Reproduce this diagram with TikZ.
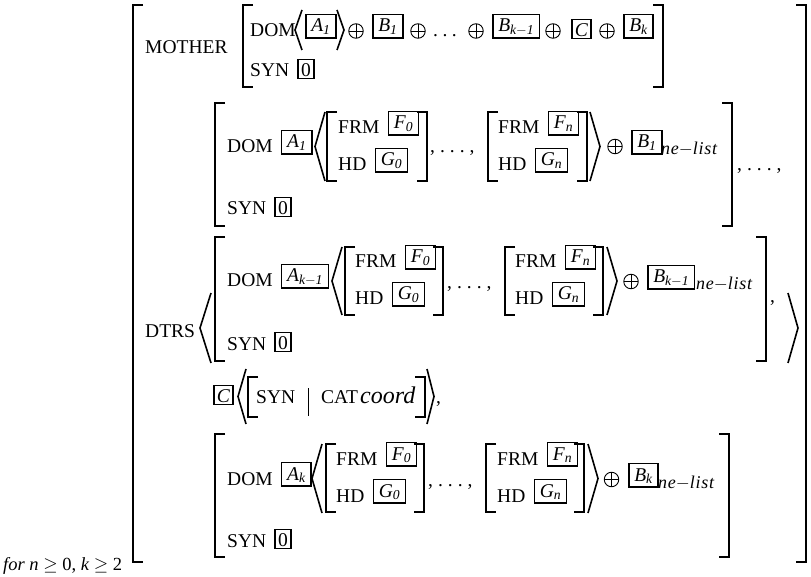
\RequirePackage{fix-cm}
\documentclass[tikz,border=0pt]{standalone}
\usepackage{fontspec}
\setmainfont{Liberation Serif}
\usetikzlibrary{positioning}

\begin{document}
\fontsize{19.5}{23}\selectfont
\begin{tikzpicture}[x=1pt, y=-1pt,
  every node/.style={inner sep=0pt, anchor=base west},
  brk/.style={line width=1.6pt},
  tagbox/.style={draw, line width=1.5pt, inner xsep=5.5pt, inner ysep=2pt, text height=15.5pt, text depth=4pt, yshift=5pt, font=\itshape},
  numbox/.style={draw, line width=1.5pt, inner xsep=3pt, inner ysep=2pt, text height=15pt, text depth=0pt, yshift=0.5pt},
  ibox/.style={numbox, font=\itshape},
  oplus/.style={circle, draw, line width=0.9pt, minimum size=14.5pt, anchor=center,
    path picture={\draw[line width=0.9pt] (path picture bounding box.north) -- (path picture bounding box.south)
      (path picture bounding box.west) -- (path picture bounding box.east);}},
  nelist/.style={font=\fontsize{18}{21}\selectfont\itshape\addfontfeatures{LetterSpace=4}}]

  \useasboundingbox (0,0) rectangle (811,577);

  % Square brackets, opening to the right
  \foreach \x/\t/\b in {133/5/562, 243/5/87, 215/103/226, 327/112/181, 488/112/181,
      215/237/361, 345/247/315, 505/247/315, 248/377/417, 215/434/557, 326/444/512, 486/444/512}
    \draw[brk] (\x+10,\t) -- (\x,\t) -- (\x,\b) -- (\x+10,\b);
  % Square brackets, opening to the left
  \foreach \x/\t/\b in {806/5/562, 663/5/87, 732/103/226, 427/112/181, 587/112/181,
      766/237/361, 443/247/315, 603/247/315, 425/377/417, 729/434/557, 424/444/512, 584/444/512}
    \draw[brk] (\x-10,\t) -- (\x,\t) -- (\x,\b) -- (\x-10,\b);

  % Angle brackets
  \foreach \l/\r/\t/\b in {295/302/10/50, 315/325/112/181, 200/211/293/363,
      332/342/247/315, 238/246/369/424, 312/322/444/513}
    \draw[brk] (\r,\t) -- (\l,{(\t+\b)/2}) -- (\r,\b);
  \foreach \l/\r/\t/\b in {337/344/10/50, 590/600/112/181, 788/798/293/363,
      607/617/247/315, 427/434/369/424, 588/598/444/513}
    \draw[brk] (\l,\t) -- (\r,{(\t+\b)/2}) -- (\l,\b);

  % Mother
  \node (mother) at (145,54) {MOTHER};
  \node (mdom) at (250,37) {DOM};
  \node[tagbox] (ma1) at (305,37) {A\textsubscript{1}};
  \node[oplus] (mplus1) at (356,31) {};
  \node[tagbox] (mb1) at (372,37) {B\textsubscript{1}};
  \node[oplus] (mplus2) at (418,31) {};
  \node (mdots) at (433,37) {.\hspace{4.5pt}.\hspace{4.5pt}.};
  \node[oplus] (mplus3) at (476,31) {};
  \node[tagbox] (mbk1) at (492,37) {B\textsubscript{k$-$1}};
  \node[oplus] (mplus4) at (553,31) {};
  \node[ibox] (mc) at (571,37) {C};
  \node[oplus] (mplus5) at (607,31) {};
  \node[tagbox] (mbk) at (623,37) {B\textsubscript{k}};
  \node (msyn) at (250,77) {SYN};
  \node[numbox, base right=8pt of msyn] (mzero) {0};

  % Daughters
  \node (dtrs) at (145,337) {DTRS};

  % FRM/HD pairs inside the DOM lists
  \foreach \x/\y/\i in {338/134/0, 498/134/n, 355/268/0, 515/268/n, 336/465/0, 497/465/n} {
    \node (frm\x) at (\x,\y) {FRM};
    \node[tagbox, base right=8pt of frm\x] (f\x) {F\textsubscript{\i}};
    \node (hd\x) at (\x,\y+37) {HD};
    \node[tagbox, base right=8pt of hd\x] (g\x) {G\textsubscript{\i}};
  }

  % first conjunct
  \node (d1dom) at (227,153) {DOM};
  \node[tagbox, base right=8pt of d1dom] (d1a) {A\textsubscript{1}};
  \node (d1dots) at (430,153) {,\hspace{5pt}.\hspace{5pt}.\hspace{5pt}.\hspace{5pt},};
  \node[oplus] (d1plus) at (615,146.5) {};
  \node[tagbox] (d1b) at (631,153) {B\textsubscript{1}};
  \node[nelist] (d1ne) at (661,155) {ne$-$list};
  \node (d1more) at (737,171) {,\hspace{5pt}.\hspace{5pt}.\hspace{5pt}.\hspace{5pt},};
  \node (d1syn) at (227,215) {SYN};
  \node[numbox, base right=8pt of d1syn] (d1zero) {0};

  % conjunct k-1
  \node (d2dom) at (227,287) {DOM};
  \node[tagbox, base right=8pt of d2dom] (d2a) {A\textsubscript{k$-$1}};
  \node (d2dots) at (447,288) {,\hspace{5pt}.\hspace{5pt}.\hspace{5pt}.\hspace{5pt},};
  \node[oplus] (d2plus) at (631,281.5) {};
  \node[tagbox] (d2b) at (647,288) {B\textsubscript{k$-$1}};
  \node[nelist] (d2ne) at (696,290) {ne$-$list};
  \node (d2comma) at (770,302) {,};
  \node (d2syn) at (227,350) {SYN};
  \node[numbox, base right=8pt of d2syn] (d2zero) {0};

  % coordinator
  \node[ibox] (cc) at (213,403) {C};
  \node (csyn) at (256,403) {SYN};
  \draw[line width=0.8pt] (308,388) -- (308,416);
  \node (ccat) at (321,403) {CAT};
  \node[font=\fontsize{24}{28}\selectfont\itshape] (ccoord) at (360,403) {coord};
  \node (ccomma) at (436,403) {,};

  % last conjunct
  \node (d3dom) at (227,485) {DOM};
  \node[tagbox, base right=8pt of d3dom] (d3a) {A\textsubscript{k}};
  \node (d3dots) at (428,486) {,\hspace{5pt}.\hspace{5pt}.\hspace{5pt}.\hspace{5pt},};
  \node[oplus] (d3plus) at (611.5,479.5) {};
  \node[tagbox] (d3b) at (628,486) {B\textsubscript{k}};
  \node[nelist] (d3ne) at (658,488) {ne$-$list};
  \node (d3syn) at (227,547) {SYN};
  \node[numbox, base right=8pt of d3syn] (d3zero) {0};

  % side condition
  \node[font=\fontsize{18.5}{22}\selectfont] (cond) at (3,570) {\textit{for n} $\geq$ 0, \textit{k} $\geq$ 2};
\end{tikzpicture}
\end{document}
